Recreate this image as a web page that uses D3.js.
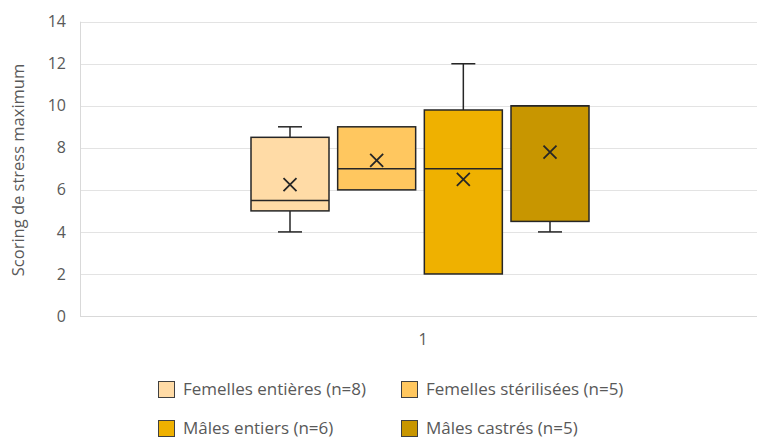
<!DOCTYPE html>
<html><head><meta charset="utf-8">
<script src="https://cdn.jsdelivr.net/npm/d3@7"></script>
<style>body{margin:0;background:#fff}svg{display:block}text{font-family:"Open Sans",sans-serif;fill:#595959}</style>
</head><body><svg id="c" width="757" height="439"></svg>
<script>
const categories = ["1"];
const series = ["Femelles entières (n=8)","Femelles stérilisées (n=5)","Mâles entiers (n=6)","Mâles castrés (n=5)"];
const colors = ["#FFDBA6","#FFC75F","#EFB100","#C89600"];
const whiskerMin = [4, 6, 2, 4];
const q1 = [5, 6, 2, 4.5];
const median = [5.5, 7, 7, 10];
const q3 = [8.5, 9, 9.8, 10];
const whiskerMax = [9, 9, 12, 10];
const means = [6.25, 7.4, 6.5, 7.8];
const yTicks = [0,2,4,6,8,10,12,14];

const svg = d3.select("#c");
const L=80,R=766,T=21.7,B=316;
const y = d3.scaleLinear().domain([0,14]).range([B,T]);
const x = d3.scaleBand().domain(categories).range([L,R]);
const xs = d3.scaleBand().domain(series).range([x("1")+171, x("1")+509]).paddingInner(0.1);

// grid
svg.append("g").selectAll("line").data(yTicks).join("line")
  .attr("x1",L).attr("x2",R).attr("y1",d=>Math.round(y(d))+0.5).attr("y2",d=>Math.round(y(d))+0.5)
  .attr("stroke",d=>d===0?"#d9d9d9":"#e3e3e3").attr("stroke-width",1);
svg.append("line").attr("x1",L+0.5).attr("x2",L+0.5).attr("y1",T).attr("y2",Math.round(B)+0.5).attr("stroke","#d9d9d9");

// y axis labels
const yAxis = d3.axisLeft(y).tickValues(yTicks).tickSize(0).tickPadding(14);
const gy = svg.append("g").attr("transform",`translate(${L},0)`).call(yAxis);
gy.select(".domain").remove();
gy.selectAll("text").style("font-family","'Open Sans',sans-serif").style("font-size","16px").attr("fill","#595959");

// x axis label
const xAxis = d3.axisBottom(x).tickSize(0).tickPadding(18);
const gx = svg.append("g").attr("transform",`translate(0,${B})`).call(xAxis);
gx.select(".domain").remove();
gx.selectAll("text").style("font-family","'Open Sans',sans-serif").style("font-size","16px").attr("fill","#595959");

// y title
svg.append("text").attr("transform","translate(24,170) rotate(-90)").attr("text-anchor","middle")
  .style("font-size","16.5px").text("Scoring de stress maximum");

// boxes
const stroke="#262626";
series.forEach((s,i)=>{
  const bx = xs(s), bw = xs.bandwidth(), cx = bx+bw/2;
  const g = svg.append("g");
  if (whiskerMax[i]>q3[i]) {
    g.append("line").attr("x1",cx).attr("x2",cx).attr("y1",y(q3[i])).attr("y2",y(whiskerMax[i])).attr("stroke",stroke).attr("stroke-width",1.5);
    g.append("line").attr("x1",cx-12).attr("x2",cx+12).attr("y1",y(whiskerMax[i])).attr("y2",y(whiskerMax[i])).attr("stroke",stroke).attr("stroke-width",1.5);
  }
  if (whiskerMin[i]<q1[i]) {
    g.append("line").attr("x1",cx).attr("x2",cx).attr("y1",y(q1[i])).attr("y2",y(whiskerMin[i])).attr("stroke",stroke).attr("stroke-width",1.5);
    g.append("line").attr("x1",cx-12).attr("x2",cx+12).attr("y1",y(whiskerMin[i])).attr("y2",y(whiskerMin[i])).attr("stroke",stroke).attr("stroke-width",1.5);
  }
  g.append("rect").attr("x",bx).attr("y",y(q3[i])).attr("width",bw).attr("height",y(q1[i])-y(q3[i]))
    .attr("fill",colors[i]).attr("stroke",stroke).attr("stroke-width",1.5);
  g.append("line").attr("x1",bx).attr("x2",bx+bw).attr("y1",y(median[i])).attr("y2",y(median[i])).attr("stroke",stroke).attr("stroke-width",1.5);
  const my=y(means[i]), s2=6.5;
  g.append("path").attr("d",`M${cx-s2},${my-s2}L${cx+s2},${my+s2}M${cx-s2},${my+s2}L${cx+s2},${my-s2}`)
    .attr("stroke",stroke).attr("stroke-width",1.8).attr("fill","none");
});

// legend
const legPos = [[158,381],[401,381],[158,420],[401,420]];
series.forEach((s,i)=>{
  const [lx,ly]=legPos[i];
  svg.append("rect").attr("x",lx+0.5).attr("y",ly+0.5).attr("width",16).attr("height",16)
    .attr("fill",colors[i]).attr("stroke","#404040").attr("stroke-width",1);
  svg.append("text").attr("x",lx+25).attr("y",ly+14).style("font-size","17px").text(s);
});
</script></body></html>
